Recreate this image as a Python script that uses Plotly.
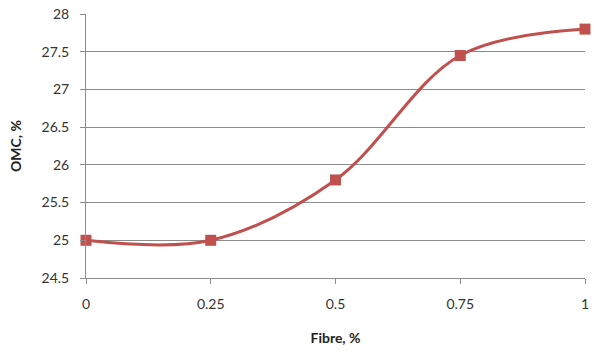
import plotly.graph_objects as go

# Fibre content (%) vs optimum moisture content (%)
fibre = [0, 0.25, 0.5, 0.75, 1]
omc = [25, 25, 25.8, 27.45, 27.8]

x_ticks = [0, 0.25, 0.5, 0.75, 1]
x_tick_text = ["0", "0.25", "0.5", "0.75", "1"]
y_ticks = [24.5, 25, 25.5, 26, 26.5, 27, 27.5, 28]
y_tick_text = ["24.5", "25", "25.5", "26", "26.5", "27", "27.5", "28"]

RED = "#C0504D"
GRID = "#8C8C8C"
FONT = "Lato, 'Open Sans', sans-serif"

fig = go.Figure(
    go.Scatter(
        x=fibre,
        y=omc,
        mode="lines+markers",
        line=dict(color=RED, width=3, shape="spline", smoothing=1.0),
        marker=dict(symbol="square", size=11, color=RED),
        cliponaxis=False,
        showlegend=False,
    )
)

fig.update_layout(
    width=594,
    height=354,
    margin=dict(l=86, r=5, t=14, b=76),
    paper_bgcolor="white",
    plot_bgcolor="white",
    font=dict(family=FONT, size=14, color="#333333"),
)

fig.update_xaxes(
    range=[0, 1],
    tickvals=x_ticks,
    ticktext=x_tick_text,
    showgrid=False,
    zeroline=False,
    showline=True,
    linecolor=GRID,
    linewidth=1,
    ticks="outside",
    ticklen=5,
    tickcolor=GRID,
    ticklabelstandoff=8,
    tickfont=dict(size=14, color="#333333"),
    title=dict(text="<b>Fibre, %</b>", font=dict(size=14, color="#222222"), standoff=22),
)

fig.update_yaxes(
    range=[24.5, 28],
    tickvals=y_ticks,
    ticktext=y_tick_text,
    showgrid=True,
    gridcolor=GRID,
    gridwidth=1,
    zeroline=False,
    showline=True,
    linecolor=GRID,
    linewidth=1,
    ticks="outside",
    ticklen=5,
    tickcolor=GRID,
    ticklabelstandoff=8,
    tickfont=dict(size=14, color="#333333"),
    title=dict(text="<b>OMC, %</b>", font=dict(size=14, color="#222222"), standoff=16),
)

fig.write_html("out.html")
